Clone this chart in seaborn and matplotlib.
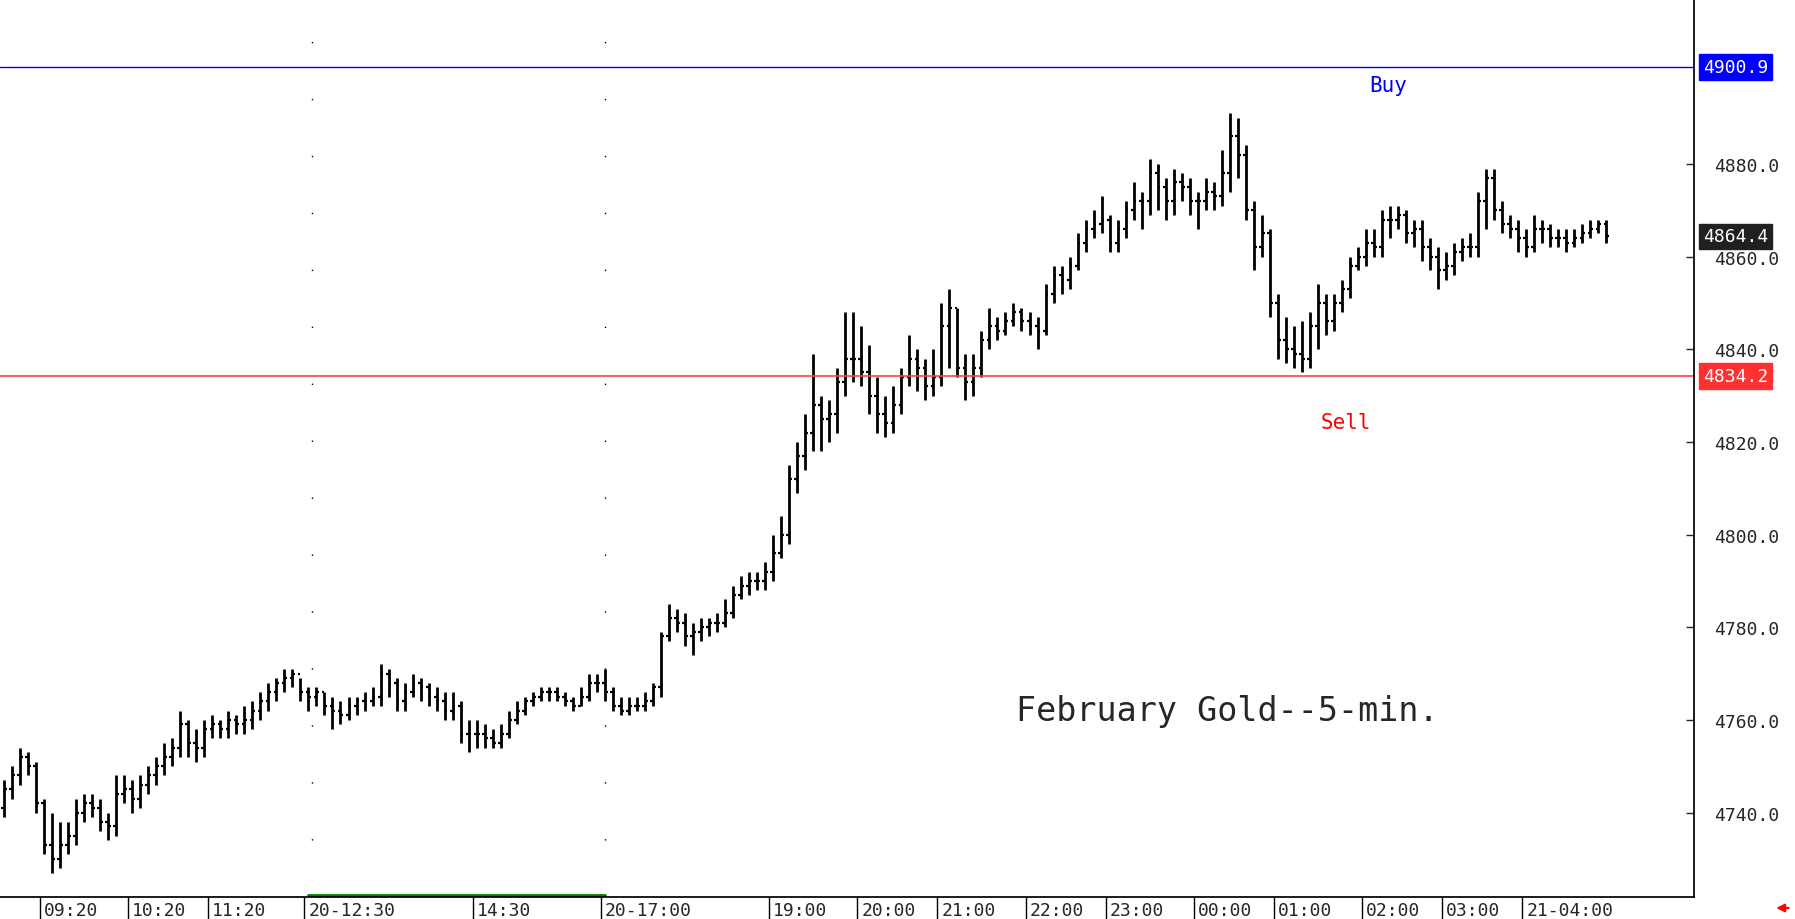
import numpy as np
import pandas as pd
import seaborn as sns
from matplotlib import pyplot as plt
from matplotlib import transforms

# 5-minute OHLC bars, February Gold
opens = [4741,4745,4748,4752,4750,4742,4733,4730,4733,4735,4740,4742,4741,4738,4737,4744,4745,4743,4746,4748,
         4750,4752,4754,4759,4755,4754,4758,4759,4758,4760,4759,4760,4762,4764,4766,4768,4769,4770,4766,4765,
         4766,4763,4762,4761,4763,4764,4764,4765,4770,4768,4764,4766,4768,4767,4765,4764,4762,4763,4757,4757,
         4757,4756,4755,4757,4760,4762,4764,4765,4766,4766,4765,4764,4763,4765,4768,4768,4766,4763,4762,4763,
         4763,4764,4767,4778,4782,4781,4778,4779,4780,4781,4781,4783,4787,4789,4790,4790,4792,4796,4800,4812,
         4817,4822,4828,4825,4826,4833,4838,4838,4835,4830,4826,4824,4828,4834,4838,4836,4832,4834,4845,4849,
         4836,4833,4836,4842,4845,4844,4846,4848,4846,4845,4844,4852,4856,4855,4858,4863,4866,4867,4868,4863,
         4866,4870,4872,4872,4878,4875,4872,4876,4875,4872,4872,4874,4873,4878,4886,4882,4870,4862,4865,4850,
         4842,4840,4839,4838,4845,4850,4846,4850,4853,4858,4860,4863,4862,4868,4868,4869,4865,4866,4862,4860,
         4857,4858,4861,4862,4862,4872,4877,4870,4867,4866,4864,4862,4866,4866,4864,4864,4863,4864,4865,4866,
         4867]
highs = [4747,4750,4754,4753,4751,4743,4740,4738,4738,4743,4744,4744,4743,4740,4748,4748,4747,4748,4750,4752,
         4755,4756,4762,4760,4758,4760,4761,4760,4762,4761,4763,4764,4766,4768,4769,4771,4771,4769,4767,4767,
         4766,4765,4764,4765,4765,4766,4767,4772,4771,4769,4768,4770,4769,4768,4767,4766,4766,4764,4760,4760,
         4759,4758,4759,4762,4764,4765,4766,4767,4767,4767,4766,4765,4767,4770,4770,4771,4767,4765,4765,4765,
         4766,4768,4779,4785,4784,4783,4781,4782,4782,4783,4786,4789,4791,4792,4792,4794,4800,4804,4815,4820,
         4826,4839,4830,4829,4836,4848,4848,4845,4841,4834,4830,4832,4836,4843,4840,4838,4840,4850,4853,4849,
         4839,4839,4844,4849,4847,4848,4850,4849,4848,4847,4854,4858,4858,4860,4865,4868,4870,4873,4869,4868,
         4872,4876,4874,4881,4880,4877,4879,4878,4877,4874,4877,4876,4883,4891,4890,4884,4872,4869,4866,4852,
         4847,4845,4846,4848,4854,4852,4852,4855,4860,4862,4866,4866,4870,4871,4871,4870,4868,4868,4864,4862,
         4861,4863,4864,4865,4874,4879,4879,4872,4869,4868,4866,4869,4868,4867,4866,4866,4866,4867,4868,4868,
         4868]
lows = [4739,4743,4746,4748,4740,4731,4727,4728,4731,4733,4738,4739,4736,4734,4735,4742,4740,4741,4744,4746,
        4748,4750,4752,4752,4751,4752,4756,4756,4756,4757,4757,4758,4760,4762,4764,4766,4767,4764,4762,4763,
        4761,4758,4759,4760,4761,4762,4763,4763,4765,4762,4762,4765,4764,4763,4762,4760,4760,4755,4753,4754,
        4754,4754,4754,4756,4759,4761,4763,4764,4764,4764,4763,4762,4763,4764,4766,4764,4762,4761,4761,4762,
        4762,4763,4765,4777,4779,4776,4774,4777,4778,4779,4780,4782,4786,4787,4788,4788,4790,4795,4798,4809,
        4814,4818,4818,4820,4822,4830,4833,4832,4826,4822,4821,4822,4826,4832,4831,4829,4830,4832,4836,4834,
        4829,4830,4834,4840,4842,4843,4845,4844,4843,4840,4843,4850,4852,4853,4857,4861,4864,4865,4861,4861,
        4864,4868,4866,4869,4870,4868,4869,4872,4869,4866,4870,4870,4871,4874,4877,4868,4857,4860,4847,4838,
        4837,4836,4835,4836,4840,4843,4844,4848,4851,4857,4858,4860,4860,4864,4866,4863,4862,4859,4857,4853,
        4855,4856,4859,4860,4860,4866,4868,4865,4864,4861,4860,4861,4863,4862,4862,4861,4862,4863,4864,4865,
        4863]
closes = [4745,4748,4752,4750,4742,4733,4730,4733,4735,4740,4742,4741,4738,4737,4744,4745,4743,4746,4748,4750,
          4752,4754,4759,4755,4754,4758,4759,4758,4760,4759,4760,4762,4764,4766,4768,4769,4770,4766,4765,4766,
          4763,4762,4761,4763,4764,4764,4765,4770,4768,4764,4766,4768,4767,4765,4764,4762,4763,4757,4757,4757,
          4756,4755,4757,4760,4762,4764,4765,4766,4766,4765,4764,4763,4765,4768,4768,4766,4763,4762,4763,4763,
          4764,4767,4778,4782,4781,4778,4779,4780,4781,4781,4783,4787,4789,4790,4790,4792,4796,4800,4812,4817,
          4822,4828,4825,4826,4833,4838,4838,4835,4830,4826,4824,4828,4834,4838,4836,4832,4834,4845,4849,4836,
          4833,4836,4842,4845,4844,4846,4848,4846,4845,4844,4852,4856,4855,4858,4863,4866,4867,4868,4863,4866,
          4870,4872,4872,4878,4875,4872,4876,4875,4872,4872,4874,4873,4878,4886,4882,4870,4862,4865,4850,4842,
          4840,4839,4838,4845,4850,4846,4850,4853,4858,4860,4863,4862,4868,4868,4869,4865,4866,4862,4860,4857,
          4858,4861,4862,4862,4872,4877,4870,4867,4866,4864,4862,4866,4866,4864,4864,4863,4864,4865,4866,4867,
          4864.4]

time_labels = ["09:20", "10:20", "11:20", "20-12:30", "14:30", "20-17:00", "19:00", "20:00",
               "21:00", "22:00", "23:00", "00:00", "01:00", "02:00", "03:00", "21-04:00"]
time_bars = [5, 16, 26, 38, 59, 75, 96, 107, 117, 128, 138, 149, 159, 170, 180, 190]
price_ticks = [4740, 4760, 4780, 4800, 4820, 4840, 4860, 4880]
buy_level = 4900.9
sell_level = 4834.2
last_price = 4864.4

n = min(len(opens), len(highs), len(lows), len(closes))
df = pd.DataFrame({"bar": np.arange(n), "open": opens[:n], "high": highs[:n],
                   "low": lows[:n], "close": closes[:n]})

sns.set_theme(style="white")
plt.rcParams['font.family'] = ['DejaVu Sans']

fig = plt.figure(figsize=(17.95, 9.2), dpi=100)
ax = fig.add_axes([0.0, 0.0236, 0.944, 0.9764])

# bars: high-low range, open tick left, close tick right
ax.vlines(df["bar"], df["low"], df["high"], color="black", lw=2.0)
ax.hlines(df["open"], df["bar"] - 0.35, df["bar"], color="black", lw=1.6)
ax.hlines(df["close"], df["bar"], df["bar"] + 0.35, color="black", lw=1.6)

ax.set_xlim(-0.5, 211)
ax.set_ylim(4721.7, 4915.6)
ax.set_xlabel("")
ax.set_ylabel("")

# support/resistance lines
ax.axhline(buy_level, color="blue", lw=1)
ax.axhline(sell_level, color="#ff4040", lw=1.2)

# dotted session separators
for xb in [38.4, 75]:
    ax.vlines(xb, 4721.7, 4915.6, color="black", lw=1, linestyles=(0, (1, 40)))

ax.text(172.8, 4897, "Buy", color="blue", fontsize=15, family="DejaVu Sans Mono", ha="center", va="center")
ax.text(167.5, 4824.2, "Sell", color="red", fontsize=15, family="DejaVu Sans Mono", ha="center", va="center")
ax.text(126.3, 4762, "February Gold--5-min.", fontsize=24, family="DejaVu Sans Mono", ha="left", va="center")

# right price axis
ax.yaxis.tick_right()
ax.set_yticks(price_ticks)
ax.set_yticklabels([f"{p:.1f}" for p in price_ticks], fontsize=13, family="DejaVu Sans Mono")
ax.tick_params(axis="y", direction="in", length=6, pad=14, right=True, width=1)
ax.set_xticks([])
for side in ["top", "left"]:
    ax.spines[side].set_visible(False)
ax.spines["right"].set_color("black")
ax.spines["bottom"].set_color("black")

# price boxes on the axis
for level, face in [(buy_level, "blue"), (sell_level, "#ff3030"), (last_price, "#202020")]:
    ax.text(1.005, level, f"{level:.1f}", transform=transforms.blended_transform_factory(ax.transAxes, ax.transData),
            color="white", fontsize=13, family="DejaVu Sans Mono", va="center", ha="left",
            bbox=dict(facecolor=face, edgecolor=face, boxstyle="square,pad=0.2"), clip_on=False)

# time labels under the chart
tr = transforms.blended_transform_factory(ax.transData, ax.transAxes)
for lab, xb in zip(time_labels, time_bars):
    ax.plot([xb - 0.5, xb - 0.5], [0, -0.025], color="black", lw=1, transform=tr, clip_on=False)
    ax.text(xb, -0.004, lab, transform=tr, fontsize=13, family="DejaVu Sans Mono", va="top", ha="left", clip_on=False)
ax.plot([38, 75], [0.002, 0.002], color="green", lw=2, transform=tr, clip_on=False)
ax.annotate("", xy=(0.988, 0.012), xytext=(0.998, 0.012), xycoords="figure fraction",
            arrowprops=dict(arrowstyle="-|>", color="red", lw=1.5))

fig.savefig("out.png", dpi=100, facecolor="white")
